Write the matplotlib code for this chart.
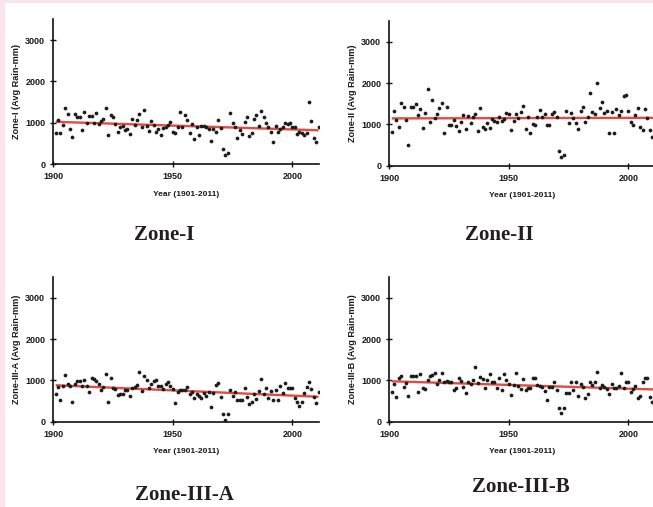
import numpy as np
import matplotlib
matplotlib.use("Agg")
import matplotlib.pyplot as plt
from matplotlib.patches import Rectangle

years = np.arange(1901, 2012)

zone_i = [760, 1064, 760, 940, 1354, 1210, 846, 660, 1210, 1145,
          1145, 822, 1250, 983, 1170, 1170, 983, 1225, 967, 1040,
          1088, 1362, 709, 1185, 1130, 960, 782, 887, 919, 830,
          846, 733, 1080, 943, 1064, 1209, 903, 1306, 927, 806,
          1032, 951, 782, 854, 709, 879, 887, 935, 1024, 782,
          758, 903, 1265, 887, 1177, 1064, 758, 967, 613, 887,
          701, 927, 919, 903, 854, 556, 854, 774, 1064, 862,
          363, 218, 258, 1225, 1000, 887, 637, 822, 717, 1008,
          1145, 685, 741, 1096, 1177, 919, 1290, 1145, 1000, 903,
          766, 540, 919, 766, 854, 887, 1000, 967, 991, 903,
          887, 725, 782, 741, 709, 741, 1507, 1040, 637, 540,
          903]

zone_ii = [822, 1322, 1104, 943, 1507, 1410, 1104, 492, 1410, 1427,
           1491, 1225, 1370, 903, 1265, 1854, 1064, 1580, 1145, 1241,
           1402, 1507, 790, 1419, 983, 983, 1104, 967, 846, 1048,
           1225, 879, 1201, 1032, 1185, 1249, 846, 1386, 943, 879,
           1024, 903, 1120, 1088, 1056, 1169, 1088, 1137, 1282, 1249,
           862, 1072, 1241, 1145, 1306, 1443, 879, 1185, 798, 1000,
           983, 1169, 1338, 1169, 1249, 983, 983, 1241, 1306, 1185,
           355, 218, 266, 1330, 1040, 1282, 1145, 1040, 895, 1330,
           1410, 1064, 1185, 1749, 1306, 1249, 2007, 1386, 1531, 1282,
           1330, 782, 1306, 798, 1362, 1225, 1330, 1676, 1709, 1314,
           1048, 983, 1225, 1394, 927, 862, 1362, 1145, 862, 701,
           1282]

zone_iii_a = [661, 846, 532, 854, 1128, 903, 854, 467, 903, 983,
              975, 854, 1008, 870, 725, 1064, 1024, 983, 911, 758,
              846, 1145, 484, 1048, 806, 790, 645, 661, 677, 758,
              774, 620, 806, 846, 887, 1209, 741, 1112, 1008, 806,
              903, 983, 1008, 870, 870, 790, 903, 951, 870, 790,
              443, 725, 758, 774, 774, 846, 661, 709, 580, 661,
              629, 580, 685, 629, 709, 363, 685, 887, 935, 596,
              193, 32, 177, 766, 629, 709, 532, 532, 516, 822,
              604, 419, 484, 661, 548, 741, 1024, 661, 822, 580,
              741, 532, 774, 516, 870, 693, 927, 806, 822, 822,
              564, 467, 387, 484, 693, 846, 967, 790, 596, 451,
              725]

zone_iii_b = [725, 903, 604, 1048, 1112, 846, 927, 612, 1104, 1112,
              1112, 725, 1145, 822, 790, 1016, 1112, 1128, 1185, 919,
              1000, 1185, 951, 983, 967, 967, 774, 806, 1048, 983,
              846, 693, 967, 919, 1016, 1322, 927, 1072, 1032, 806,
              1000, 1145, 951, 967, 806, 1048, 758, 1145, 1000, 919,
              645, 887, 1185, 870, 782, 1024, 774, 806, 822, 1048,
              1048, 887, 870, 838, 741, 524, 838, 838, 951, 774,
              322, 210, 322, 701, 693, 967, 774, 967, 612, 903,
              838, 564, 661, 951, 887, 951, 1193, 822, 887, 838,
              790, 677, 919, 822, 822, 870, 1177, 806, 951, 951,
              725, 790, 870, 564, 612, 951, 1064, 1048, 596, 484,
              935]

panel_titles = ["Zone-I", "Zone-II", "Zone-III-A", "Zone-III-B"]
y_labels = ["Zone-I (Avg Rain-mm)", "Zone-II (Avg Rain-mm)",
            "Zone-III-A (Avg Rain-mm)", "Zone-III-B (Avg Rain-mm)"]
x_label = "Year (1901-2011)"
x_ticks = [1900, 1950, 2000]
y_ticks = [0, 1000, 2000, 3000]

W, H = 653, 507
fig = plt.figure(figsize=(W / 100, H / 100), dpi=100)
fig.patch.set_facecolor("white")

# thin pink page margin on the top and left
fig.patches.append(Rectangle((0, 1 - 3 / H), 1, 3 / H, transform=fig.transFigure,
                             facecolor="#fbe4ee", edgecolor="none", zorder=0))
fig.patches.append(Rectangle((0, 0), 5 / W, 1, transform=fig.transFigure,
                             facecolor="#fbe4ee", edgecolor="none", zorder=0))

# axes boxes in pixel units: (left, bottom-from-top, width, height)
boxes = [(53.3, 164.0), (389.3, 165.7), (53.3, 421.7), (389.3, 421.7)]
ax_w, ax_h = 265.3, 144.6
series = [zone_i, zone_ii, zone_iii_a, zone_iii_b]

tick_font = dict(family="Liberation Sans", weight="bold", size=6.5)

for (left, bottom_px), vals, ylab in zip(boxes, series, y_labels):
    ax = fig.add_axes([left / W, (H - bottom_px) / H, ax_w / W, ax_h / H])
    ax.set_facecolor("none")
    vals = np.asarray(vals, dtype=float)

    slope, intercept = np.polyfit(years, vals, 1)
    ax.plot(years, slope * years + intercept, color="#e34b41", lw=1.7,
            solid_capstyle="butt", zorder=2)
    ax.plot(years, vals, "o", color="#1c1c1c", ms=2.7, mew=0, zorder=3)

    ax.set_xlim(1900, 2011)
    ax.set_ylim(0, 3500)
    ax.set_xticks(x_ticks)
    ax.set_yticks(y_ticks)
    for s in ("top", "right"):
        ax.spines[s].set_visible(False)
    for s in ("left", "bottom"):
        ax.spines[s].set_linewidth(1.2)
        ax.spines[s].set_color("#111111")
    ax.tick_params(direction="inout", length=4.5, width=1.0, color="#111111",
                   pad=3.5)
    for lab in ax.get_xticklabels() + ax.get_yticklabels():
        lab.set_fontproperties(tick_font)
        lab.set_color("#1a1a1a")

    ax.set_xlabel(x_label, family="Liberation Sans", weight="bold",
                  size=6.0, color="#1a1a1a")
    ax.xaxis.set_label_coords(0.5, -0.185)
    ax.set_ylabel(ylab, family="Liberation Sans", weight="bold",
                  size=6.6, color="#1a1a1a")
    ax.yaxis.set_label_coords(-0.122, 0.5)

title_pos = [(164, 234.5), (499, 234.5), (184, 494.5), (521, 487)]
for (tx, ty), t in zip(title_pos, panel_titles):
    fig.text(tx / W, 1 - ty / H, t, ha="center", va="center",
             family="Liberation Serif", weight="bold", size=15,
             color="#231f20")

fig.savefig("out.png", dpi=100)
